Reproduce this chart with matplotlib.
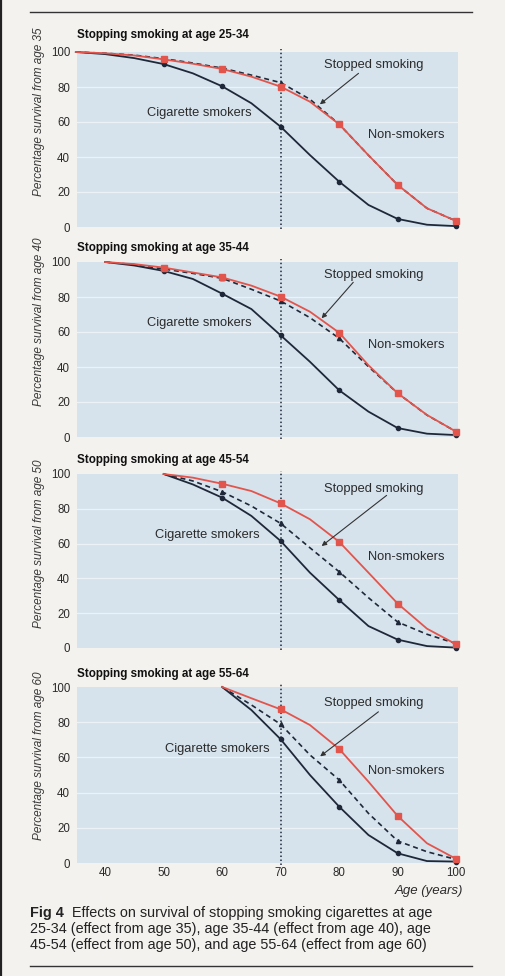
import numpy as np
import matplotlib
matplotlib.use("Agg")
import matplotlib.pyplot as plt
from matplotlib.lines import Line2D

plt.rcParams['font.family'] = ['Liberation Sans', 'DejaVu Sans']

# survival curves, 5-year steps
ages1 = [35, 40, 45, 50, 55, 60, 65, 70, 75, 80, 85, 90, 95, 100]
non1 = [100, 99.3, 98, 95.8, 93.3, 90.3, 85.9, 80.2, 71.6, 58.7, 41, 24, 10.7, 3.4]
smk1 = [100, 98.8, 96.5, 93.1, 87.8, 80.4, 70.7, 57.3, 41.1, 25.9, 12.6, 4.6, 1.3, 0.5]
stp1 = [100, 99.3, 98.2, 96.2, 93.7, 90.8, 86.8, 82.5, 73, 58.7, 41, 24, 10.7, 3.4]

ages2 = [40, 45, 50, 55, 60, 65, 70, 75, 80, 85, 90, 95, 100]
non2 = [100, 98.8, 96.8, 94, 91.2, 86.5, 80.2, 71.6, 59.6, 41, 25, 12.6, 3]
smk2 = [100, 98, 94.9, 90.3, 81.9, 73.1, 58.1, 43, 26.7, 14.5, 5.1, 1.9, 1.1]
stp2 = [100, 98.5, 96, 93.5, 90.7, 84.4, 77.7, 68.2, 56.4, 40.2, 25, 12.5, 3]

ages3 = [50, 55, 60, 65, 70, 75, 80, 85, 90, 95, 100]
non3 = [100, 97.9, 94.4, 90.2, 83.1, 74, 61, 43.3, 25.5, 11.1, 2.1]
smk3 = [100, 94, 86.4, 75.9, 61.5, 43.3, 27.6, 12.6, 4.8, 1.1, 0.2]
stp3 = [100, 96, 89.8, 81.6, 71.6, 57.6, 43.8, 28.9, 14.9, 7.9, 2.5]

ages4 = [60, 65, 70, 75, 80, 85, 90, 95, 100]
non4 = [100, 93.6, 87.3, 78.4, 64.8, 46.2, 26.7, 11.2, 2.3]
smk4 = [100, 86.9, 70.3, 50, 32, 15.9, 5.5, 1.1, 0.8]
stp4 = [100, 89.8, 78.8, 61.4, 47.2, 28.2, 12.5, 6.4, 2]

titles = ["Stopping smoking at age 25-34", "Stopping smoking at age 35-44",
          "Stopping smoking at age 45-54", "Stopping smoking at age 55-64"]
ylabels = ["Percentage survival from age 35", "Percentage survival from age 40",
           "Percentage survival from age 50", "Percentage survival from age 60"]
xticks = [40, 50, 60, 70, 80, 90, 100]
yticks = [0, 20, 40, 60, 80, 100]

panels = [(ages1, non1, smk1, stp1), (ages2, non2, smk2, stp2),
          (ages3, non3, smk3, stp3), (ages4, non4, smk4, stp4)]

# label placement (data coords)
stop_txt = [(85.9, 92.6), (85.9, 92.7), (85.9, 91.5), (85.9, 90.7)]
arrow_from = [(83.3, 87.8), (82.4, 88.4), (88.1, 87.7), (86.7, 85.9)]
arrow_to = [(76.7, 70.1), (77.0, 67.8), (77.0, 58.6), (76.75, 60.6)]
cig_txt = [(56.1, 65), (56.1, 65), (57.4, 65), (59.2, 65)]
ylab_y = [0.66, 0.66, 0.60, 0.61]

PAGE = '#f4f2ee'
BLUE = '#d6e3ed'
RED = '#e2554c'
DARK = '#1f2838'
TXT = '#2b2b2b'

W, H = 506, 976
fig = plt.figure(figsize=(W / 100, H / 100), dpi=100, facecolor=PAGE)

# axes boxes in pixels: (top, bottom)
boxes = [(52, 227), (262, 437), (474, 648), (687, 863)]
title_y = [35, 248, 460, 674]
left_px, right_px = 77, 458

for i, ((ages, non, smk, stp), (top, bot)) in enumerate(zip(panels, boxes)):
    ax = fig.add_axes([left_px / W, 1 - bot / H, (right_px - left_px) / W, (bot - top) / H])
    ax.set_facecolor(BLUE)
    ax.set_xlim(35.2, 100.3)
    ax.set_ylim(0, 100)
    for s in ax.spines.values():
        s.set_visible(False)
    for g in [20, 40, 60, 80]:
        ax.axhline(g, color='white', lw=0.9, alpha=0.55, zorder=1)

    start = ages[0]
    marks = [k for k, a in enumerate(ages) if a % 10 == 0 and a >= start + 10]

    ax.plot(ages, smk, color=DARK, lw=1.3, marker='o', ms=3, markevery=marks,
            zorder=3, clip_on=False)
    ax.plot(ages, stp, color=DARK, lw=1.2, ls=(0, (3, 2.2)), marker='^', ms=3,
            markevery=marks, zorder=4, clip_on=False)
    ax.plot(ages, non, color=RED, lw=1.3, marker='s', ms=4, markevery=marks,
            zorder=5, clip_on=False)

    ax.plot([70, 70], [-1, 102], color=DARK, lw=1.1, ls=(0, (1, 1.6)),
            zorder=2, clip_on=False)

    ax.annotate("", xy=arrow_to[i], xytext=arrow_from[i], textcoords='data',
                arrowprops=dict(arrowstyle='-|>', color='#333333', lw=0.8,
                                mutation_scale=7, shrinkA=0, shrinkB=0), zorder=6)
    ax.text(stop_txt[i][0], stop_txt[i][1], "Stopped smoking", fontsize=9.3,
            color=TXT, ha='center', va='center', zorder=6)
    ax.text(cig_txt[i][0], cig_txt[i][1], "Cigarette smokers", fontsize=9.3,
            color=TXT, ha='center', va='center', zorder=6)
    ax.text(91.5, 52.5, "Non-smokers", fontsize=9.3, color=TXT,
            ha='center', va='center', zorder=6)

    ax.set_yticks(yticks)
    ax.tick_params(axis='y', length=0, pad=5, labelsize=8.3, labelcolor=TXT)
    if i == 3:
        ax.set_xticks(xticks)
        ax.tick_params(axis='x', length=0, pad=3, labelsize=8.3, labelcolor=TXT)
    else:
        ax.set_xticks([])

    ax.set_ylabel(ylabels[i], fontsize=8.5, style='italic', color='#3a3a3a')
    ax.yaxis.set_label_coords(-32 / (right_px - left_px), ylab_y[i])

    fig.text(left_px / W, 1 - title_y[i] / H, titles[i], fontsize=8.4,
             fontweight='bold', color='#111111', ha='left', va='center')

fig.text(463 / W, 1 - 891 / H, "Age (years)", fontsize=9.5, style='italic',
         color=TXT, ha='right', va='center')

# caption
cap_fs = 10.4
fig.text(30 / W, 1 - 913 / H, "Fig 4", fontsize=cap_fs, fontweight='bold',
         color='#222222', ha='left', va='center')
fig.text(72 / W, 1 - 913 / H, "Effects on survival of stopping smoking cigarettes at age",
         fontsize=cap_fs, color='#222222', ha='left', va='center')
fig.text(30 / W, 1 - 929 / H, "25-34 (effect from age 35), age 35-44 (effect from age 40), age",
         fontsize=cap_fs, color='#222222', ha='left', va='center')
fig.text(30 / W, 1 - 945 / H, "45-54 (effect from age 50), and age 55-64 (effect from age 60)",
         fontsize=cap_fs, color='#222222', ha='left', va='center')

# rules and page edge
for yy in [12, 966]:
    fig.add_artist(Line2D([30 / W, 472 / W], [1 - yy / H, 1 - yy / H],
                          color='#333333', lw=1.0))
fig.add_artist(Line2D([1 / W, 1 / W], [0, 1], color='#222222', lw=1.6))

fig.savefig("out.png", dpi=100, facecolor=PAGE)
